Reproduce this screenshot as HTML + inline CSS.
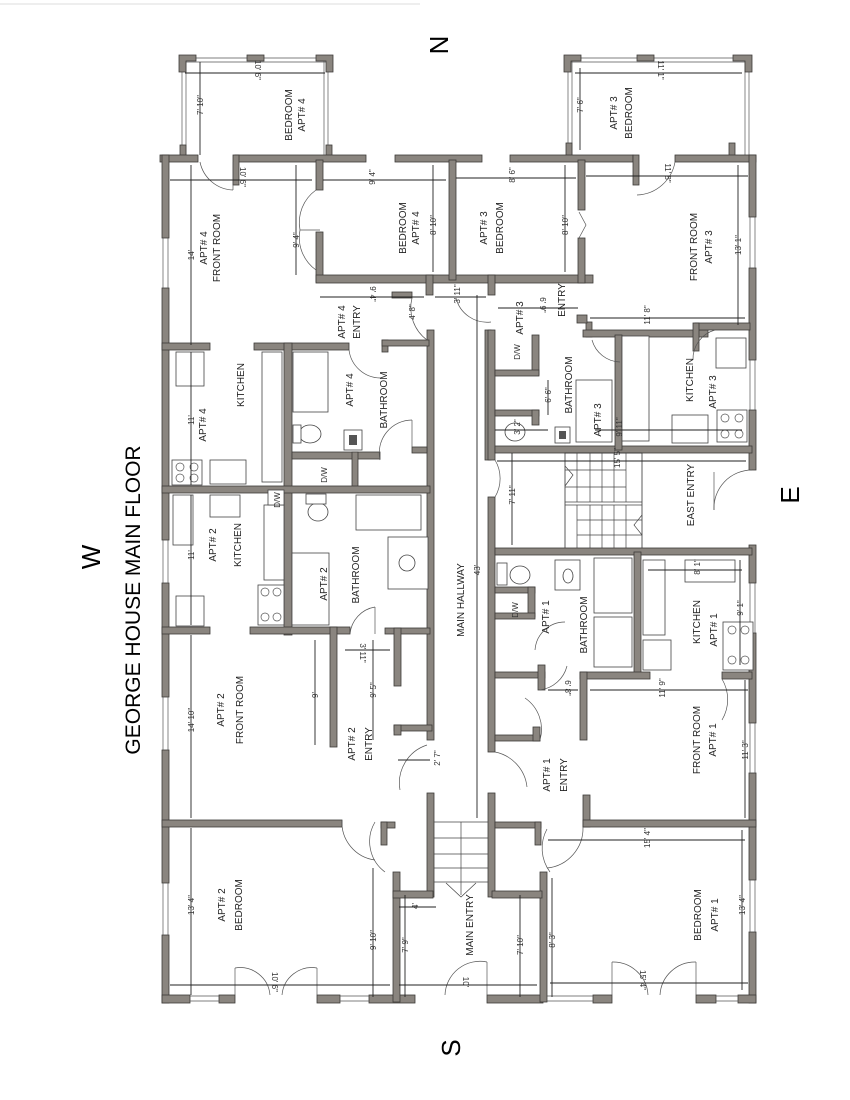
<!DOCTYPE html>
<html><head><meta charset="utf-8"><style>
html,body{margin:0;padding:0;background:#fff;}
svg{display:block;}
.w{fill:#8a857f;stroke:#3c3a38;stroke-width:0.8;}
.t{font-family:"Liberation Sans",sans-serif;font-size:10px;fill:#222;}
.d{font-family:"Liberation Sans",sans-serif;font-size:8px;fill:#333;}
.l{stroke:#222;stroke-width:0.9;fill:none;}
.a{stroke:#555;stroke-width:0.7;fill:none;}
.f{fill:#fff;stroke:#444;stroke-width:0.8;}
</style></head><body>
<svg width="850" height="1100" viewBox="0 0 850 1100" xmlns="http://www.w3.org/2000/svg">
<rect width="850" height="1100" fill="#fff"/>
<line x1="0" y1="4" x2="420" y2="4" stroke="#ddd" stroke-width="1"/>

<!-- Compass + title -->
<text transform="translate(448,45) rotate(-90)" text-anchor="middle" style="font-family:'Liberation Sans',sans-serif;font-size:26px">N</text>
<text transform="translate(799,495) rotate(-90)" text-anchor="middle" style="font-family:'Liberation Sans',sans-serif;font-size:26px">E</text>
<text transform="translate(460,1048) rotate(-90)" text-anchor="middle" style="font-family:'Liberation Sans',sans-serif;font-size:26px">S</text>
<text transform="translate(100,557) rotate(-90)" text-anchor="middle" style="font-family:'Liberation Sans',sans-serif;font-size:26px">W</text>
<text transform="translate(140,600) rotate(-90)" text-anchor="middle" style="font-family:'Liberation Sans',sans-serif;font-size:21px">GEORGE HOUSE MAIN FLOOR</text>

<!-- Bedroom boxes top -->
<g>
<line x1="182" y1="58" x2="182" y2="158" class="a"/><line x1="186" y1="58" x2="186" y2="158" class="a"/>
<line x1="328" y1="58" x2="328" y2="158" class="a"/><line x1="324" y1="58" x2="324" y2="158" class="a"/>
<line x1="182" y1="58" x2="332" y2="58" class="a"/><line x1="182" y1="62" x2="332" y2="62" class="a"/>
<path class="w" d="M179 55 H196 V61 H186 V72 H179 Z"/>
<path class="w" d="M316 55 H333 V72 H326 V61 H316 Z"/>
<rect class="w" x="247" y="55" width="17" height="6"/>
<rect class="w" x="180" y="145" width="6" height="15"/><rect class="w" x="326" y="145" width="6" height="15"/>

<line x1="568" y1="58" x2="568" y2="155" class="a"/><line x1="572" y1="58" x2="572" y2="155" class="a"/>
<line x1="749" y1="58" x2="749" y2="155" class="a"/><line x1="745" y1="58" x2="745" y2="155" class="a"/>
<line x1="565" y1="58" x2="752" y2="58" class="a"/><line x1="565" y1="62" x2="752" y2="62" class="a"/>
<path class="w" d="M564 55 H581 V61 H571 V72 H564 Z"/>
<path class="w" d="M733 55 H752 V72 H745 V61 H733 Z"/>
<rect class="w" x="637" y="55" width="17" height="6"/>
<rect class="w" x="566" y="143" width="6" height="14"/><rect class="w" x="729" y="143" width="6" height="14"/>
</g>

<!-- Outer walls -->
<g>
<!-- top -->
<rect class="w" x="160" y="155" width="38" height="7"/>
<rect class="w" x="235" y="155" width="131" height="7"/>
<rect class="w" x="395" y="155" width="87" height="7"/>
<rect class="w" x="510" y="155" width="123" height="7"/>
<rect class="w" x="675" y="155" width="81" height="7"/>
<rect class="w" x="233" y="155" width="6" height="30"/>
<rect class="w" x="633" y="155" width="6" height="30"/>
<!-- west -->
<rect class="w" x="162" y="155" width="7" height="83"/>
<rect class="w" x="162" y="288" width="7" height="252"/>
<rect class="w" x="162" y="583" width="7" height="114"/>
<rect class="w" x="162" y="750" width="7" height="133"/>
<rect class="w" x="162" y="935" width="7" height="68"/>
<line x1="163" y1="238" x2="163" y2="288" class="a"/><line x1="168" y1="238" x2="168" y2="288" class="a"/>
<line x1="163" y1="540" x2="163" y2="583" class="a"/><line x1="168" y1="540" x2="168" y2="583" class="a"/>
<line x1="163" y1="697" x2="163" y2="750" class="a"/><line x1="168" y1="697" x2="168" y2="750" class="a"/>
<line x1="163" y1="883" x2="163" y2="935" class="a"/><line x1="168" y1="883" x2="168" y2="935" class="a"/>
<!-- east -->
<rect class="w" x="749" y="155" width="7" height="62"/>
<rect class="w" x="749" y="268" width="7" height="92"/>
<rect class="w" x="749" y="410" width="7" height="60"/>
<rect class="w" x="749" y="545" width="7" height="38"/>
<rect class="w" x="749" y="633" width="7" height="90"/>
<rect class="w" x="749" y="773" width="7" height="107"/>
<rect class="w" x="749" y="932" width="7" height="71"/>
<line x1="750" y1="217" x2="750" y2="268" class="a"/><line x1="755" y1="217" x2="755" y2="268" class="a"/>
<line x1="750" y1="360" x2="750" y2="410" class="a"/><line x1="755" y1="360" x2="755" y2="410" class="a"/>
<line x1="750" y1="583" x2="750" y2="633" class="a"/><line x1="755" y1="583" x2="755" y2="633" class="a"/>
<line x1="750" y1="723" x2="750" y2="773" class="a"/><line x1="755" y1="723" x2="755" y2="773" class="a"/>
<line x1="750" y1="880" x2="750" y2="932" class="a"/><line x1="755" y1="880" x2="755" y2="932" class="a"/>
<!-- bottom -->
<rect class="w" x="162" y="995" width="28" height="8"/>
<rect class="w" x="219" y="995" width="16" height="8"/>
<rect class="w" x="317" y="995" width="23" height="8"/>
<rect class="w" x="369" y="995" width="46" height="8"/>
<rect class="w" x="487" y="995" width="56" height="8"/>
<rect class="w" x="593" y="995" width="19" height="8"/>
<rect class="w" x="696" y="995" width="20" height="8"/>
<rect class="w" x="738" y="995" width="18" height="8"/>
<line x1="190" y1="996" x2="219" y2="996" class="a"/><line x1="190" y1="1001" x2="219" y2="1001" class="a"/>
<line x1="340" y1="996" x2="369" y2="996" class="a"/><line x1="340" y1="1001" x2="369" y2="1001" class="a"/>
<line x1="543" y1="996" x2="593" y2="996" class="a"/><line x1="543" y1="1001" x2="593" y2="1001" class="a"/>
<line x1="716" y1="996" x2="738" y2="996" class="a"/><line x1="716" y1="1001" x2="738" y2="1001" class="a"/>
</g>

<!-- Interior walls -->
<g>
<!-- top bedrooms -->
<rect class="w" x="316" y="160" width="7" height="30"/>
<rect class="w" x="316" y="232" width="7" height="50"/>
<rect class="w" x="316" y="275" width="277" height="8"/>
<rect class="w" x="449" y="160" width="7" height="120"/>
<rect class="w" x="578" y="160" width="7" height="50"/>
<rect class="w" x="578" y="238" width="7" height="45"/>
<rect class="w" x="426" y="275" width="7" height="20"/>
<rect class="w" x="488" y="275" width="7" height="20"/>
<rect class="w" x="392" y="292" width="20" height="6"/>
<!-- apt3 entry -->
<rect class="w" x="485" y="330" width="6" height="130"/>
<rect class="w" x="586" y="322" width="6" height="15"/>
<rect class="w" x="577" y="315" width="10" height="8"/>
<rect class="w" x="583" y="330" width="125" height="7"/>
<rect class="w" x="695" y="323" width="55" height="7"/>
<rect class="w" x="693" y="323" width="6" height="28"/>
<!-- hallway walls -->
<rect class="w" x="427" y="330" width="7" height="410"/>
<rect class="w" x="488" y="330" width="7" height="130"/>
<rect class="w" x="488" y="497" width="7" height="255"/>
<rect class="w" x="427" y="793" width="7" height="104"/>
<rect class="w" x="488" y="793" width="7" height="104"/>
<!-- apt4 kitchen/bath -->
<rect class="w" x="254" y="343" width="95" height="7"/>
<rect class="w" x="284" y="343" width="8" height="292"/>
<rect class="w" x="292" y="452" width="88" height="7"/>
<rect class="w" x="352" y="452" width="6" height="35"/>
<rect class="w" x="382" y="340" width="6" height="12"/>
<rect class="w" x="382" y="340" width="47" height="6"/>
<rect class="w" x="412" y="447" width="15" height="6"/>
<rect class="w" x="162" y="486" width="268" height="7"/>
<rect class="w" x="162" y="343" width="48" height="7"/>
<rect class="w" x="162" y="627" width="48" height="7"/>
<rect class="w" x="250" y="627" width="100" height="7"/>
<rect class="w" x="330" y="627" width="7" height="120"/>
<rect class="w" x="385" y="628" width="45" height="6"/>
<rect class="w" x="394" y="628" width="7" height="58"/>
<rect class="w" x="394" y="725" width="38" height="6"/>
<rect class="w" x="394" y="725" width="7" height="10"/>
<!-- apt3 bath/kitchen -->
<rect class="w" x="495" y="446" width="257" height="7"/>
<rect class="w" x="615" y="335" width="7" height="115"/>
<rect class="w" x="532" y="335" width="7" height="40"/>
<rect class="w" x="495" y="370" width="44" height="6"/>
<rect class="w" x="495" y="410" width="44" height="6"/>
<rect class="w" x="532" y="410" width="7" height="15"/>
<!-- stairs east -->
<rect x="565" y="453" width="77" height="96" fill="none" stroke="#333" stroke-width="0.8"/>
<g stroke="#444" stroke-width="0.7">
<line x1="565" y1="502" x2="642" y2="502"/><line x1="565" y1="505" x2="642" y2="505"/>
<line x1="577" y1="453" x2="577" y2="502"/><line x1="590" y1="453" x2="590" y2="502"/><line x1="602" y1="453" x2="602" y2="502"/><line x1="614" y1="453" x2="614" y2="502"/><line x1="626" y1="453" x2="626" y2="502"/>
<line x1="565" y1="470" x2="626" y2="470"/><line x1="565" y1="487" x2="626" y2="487"/>
<line x1="577" y1="505" x2="577" y2="549"/><line x1="590" y1="505" x2="590" y2="549"/><line x1="602" y1="505" x2="602" y2="549"/><line x1="614" y1="505" x2="614" y2="549"/><line x1="626" y1="505" x2="626" y2="549"/>
<line x1="577" y1="520" x2="642" y2="520"/><line x1="577" y1="535" x2="642" y2="535"/>
<polyline points="565,466 573,475 565,486" fill="none"/>
<polyline points="642,515 634,525 642,535" fill="none"/>
</g>
<!-- apt1 -->
<rect class="w" x="495" y="548" width="257" height="7"/>
<rect class="w" x="634" y="552" width="7" height="125"/>
<rect class="w" x="495" y="587" width="40" height="6"/>
<rect class="w" x="528" y="587" width="7" height="30"/>
<rect class="w" x="495" y="613" width="40" height="6"/>
<rect class="w" x="495" y="672" width="50" height="6"/>
<rect class="w" x="538" y="665" width="7" height="25"/>
<rect class="w" x="495" y="735" width="45" height="6"/>
<rect class="w" x="533" y="727" width="7" height="14"/>
<rect class="w" x="580" y="672" width="70" height="7"/>
<rect class="w" x="580" y="672" width="7" height="68"/>
<rect class="w" x="722" y="672" width="30" height="7"/>
<rect class="w" x="583" y="795" width="7" height="32"/>
<rect class="w" x="583" y="820" width="173" height="7"/>
<!-- apt2 front/bedroom -->
<rect class="w" x="162" y="820" width="180" height="7"/>
<!-- main entry stair -->
<rect class="w" x="381" y="822" width="14" height="6"/>
<rect class="w" x="381" y="822" width="6" height="23"/>
<rect class="w" x="393" y="872" width="7" height="130"/>
<rect class="w" x="393" y="891" width="40" height="7"/>
<rect class="w" x="495" y="822" width="46" height="6"/>
<rect class="w" x="535" y="822" width="6" height="23"/>
<rect class="w" x="540" y="872" width="7" height="130"/>
<rect class="w" x="492" y="891" width="50" height="7"/>
<g stroke="#444" stroke-width="0.7">
<line x1="434" y1="838" x2="488" y2="838"/><line x1="434" y1="854" x2="488" y2="854"/><line x1="434" y1="868" x2="488" y2="868"/><line x1="434" y1="882" x2="488" y2="882"/>
<line x1="461" y1="822" x2="461" y2="895"/>
<polyline points="446,883 461,897 476,883" fill="none"/>
<line x1="434" y1="822" x2="488" y2="822"/>
</g>
</g>

<!-- Doors (arcs) -->
<g class="a">
<path d="M200 162 A35 35 0 0 0 233 190"/><line x1="233" y1="162" x2="233" y2="190"/>
<path d="M675 162 A40 40 0 0 1 637 195"/>
<path d="M316 190 A40 40 0 0 0 300 230"/><path d="M316 270 A40 40 0 0 1 300 230"/><line x1="300" y1="230" x2="320" y2="230"/>
<polyline points="579,212 586,225 579,238"/>
<path d="M412 298 A40 40 0 0 0 427 340"/>
<path d="M491 322 A32 32 0 0 1 456 298"/>
<path d="M349 350 A32 32 0 0 0 380 378"/>
<path d="M380 460 A33 33 0 0 1 412 420"/><line x1="412" y1="420" x2="412" y2="447"/>
<path d="M495 460 A36 36 0 0 1 495 497"/>
<path d="M592 340 A30 30 0 0 0 620 362"/>
<path d="M715 330 A30 30 0 0 0 693 360"/>
<path d="M752 470 A38 38 0 0 0 714 510"/><line x1="714" y1="472" x2="714" y2="510"/>
<path d="M350 634 A30 30 0 0 1 375 607"/><line x1="375" y1="607" x2="375" y2="634"/>
<path d="M535 650 A30 30 0 0 1 565 622"/><path d="M540 690 A32 32 0 0 0 567 666"/>
<path d="M540 740 A38 38 0 0 0 525 698"/>
<path d="M722 679 A40 40 0 0 1 722 720"/>
<path d="M427 745 A40 40 0 0 0 400 790"/><path d="M495 752 A40 40 0 0 1 527 787"/>
<path d="M342 820 A38 38 0 0 0 375 860"/><path d="M375 822 A38 38 0 0 0 385 872"/>
<path d="M583 827 A40 40 0 0 1 547 868"/><path d="M547 829 A40 40 0 0 0 550 872"/>
<path d="M235 968 A30 30 0 0 1 270 995"/><line x1="235" y1="968" x2="235" y2="995"/>
<path d="M317 968 A30 30 0 0 0 282 995"/><line x1="317" y1="968" x2="317" y2="995"/>
<path d="M445 995 A35 35 0 0 1 487 962"/><line x1="487" y1="962" x2="487" y2="995"/>
<path d="M612 962 A35 35 0 0 1 648 995"/><line x1="612" y1="962" x2="612" y2="995"/>
<path d="M696 962 A35 35 0 0 0 660 995"/><line x1="696" y1="962" x2="696" y2="995"/>
</g>

<!-- Fixtures -->
<g>
<!-- apt4 kitchen counter + fridge -->
<rect class="f" x="262" y="352" width="20" height="130"/>
<rect class="f" x="176" y="352" width="28" height="34"/>
<rect class="f" x="172" y="460" width="30" height="25"/>
<circle cx="180" cy="467" r="4" class="a"/><circle cx="194" cy="467" r="4" class="a"/><circle cx="180" cy="478" r="4" class="a"/><circle cx="194" cy="478" r="4" class="a"/>
<rect class="f" x="210" y="460" width="36" height="24"/>
<rect class="f" x="293" y="352" width="35" height="60"/>
<ellipse cx="310" cy="434" rx="11" ry="9" class="f"/><rect class="f" x="293" y="425" width="8" height="18"/>
<rect class="f" x="344" y="430" width="18" height="20"/><rect x="349" y="435" width="8" height="10" fill="#555"/>
<text class="d" transform="translate(327,475) rotate(-90)" text-anchor="middle">D/W</text>
<!-- apt2 kitchen -->
<rect class="f" x="210" y="495" width="30" height="22"/>
<rect class="f" x="173" y="495" width="20" height="50"/>
<rect class="f" x="264" y="505" width="20" height="75"/>
<rect class="f" x="258" y="585" width="26" height="40"/>
<circle cx="265" cy="592" r="4" class="a"/><circle cx="277" cy="592" r="4" class="a"/><circle cx="265" cy="617" r="4" class="a"/><circle cx="277" cy="617" r="4" class="a"/>
<rect class="f" x="176" y="596" width="28" height="30"/>
<rect class="f" x="268" y="490" width="16" height="15"/>
<text class="d" transform="translate(280,500) rotate(-90)" text-anchor="middle">D/W</text>
<rect class="f" x="292" y="553" width="37" height="72"/>
<ellipse cx="318" cy="512" rx="10" ry="9" class="f"/><rect class="f" x="306" y="494" width="20" height="10"/>
<rect class="f" x="356" y="495" width="65" height="35"/>
<rect class="f" x="388" y="537" width="40" height="52"/><ellipse cx="407" cy="563" rx="8" ry="8" class="f"/>
<!-- apt3 bath -->
<text class="d" transform="translate(520,352) rotate(-90)" text-anchor="middle">D/W</text>
<rect class="f" x="576" y="380" width="36" height="62"/>
<ellipse cx="515" cy="432" rx="10" ry="9" class="f"/>
<rect class="f" x="555" y="427" width="15" height="16"/><rect x="559" y="431" width="7" height="8" fill="#555"/>
<rect class="f" x="622" y="336" width="27" height="105"/>
<rect class="f" x="716" y="338" width="30" height="30"/>
<rect class="f" x="672" y="415" width="36" height="28"/>
<rect class="f" x="717" y="410" width="30" height="32"/>
<circle cx="725" cy="418" r="4" class="a"/><circle cx="739" cy="418" r="4" class="a"/><circle cx="725" cy="434" r="4" class="a"/><circle cx="739" cy="434" r="4" class="a"/>
<!-- apt1 bath/kitchen -->
<ellipse cx="520" cy="575" rx="10" ry="9" class="f"/><rect class="f" x="497" y="563" width="10" height="22"/>
<rect class="f" x="555" y="560" width="25" height="30"/><ellipse cx="568" cy="576" rx="5" ry="7" class="f"/>
<text class="d" transform="translate(518,610) rotate(-90)" text-anchor="middle">D/W</text>
<rect class="f" x="594" y="558" width="38" height="55"/>
<rect class="f" x="594" y="617" width="38" height="50"/>
<rect class="f" x="643" y="560" width="22" height="75"/>
<rect class="f" x="643" y="640" width="28" height="30"/>
<rect class="f" x="685" y="560" width="50" height="22"/>
<rect class="f" x="723" y="622" width="30" height="48"/>
<circle cx="732" cy="630" r="4" class="a"/><circle cx="745" cy="630" r="4" class="a"/><circle cx="732" cy="660" r="4" class="a"/><circle cx="745" cy="660" r="4" class="a"/>
</g>

<!-- Dimension lines -->
<g class="l">
<line x1="191" y1="165" x2="191" y2="345"/><line x1="191" y1="352" x2="191" y2="485"/><line x1="191" y1="495" x2="191" y2="625"/>
<line x1="191" y1="635" x2="191" y2="818"/><line x1="191" y1="828" x2="191" y2="995"/>
<line x1="200" y1="62" x2="200" y2="155"/><line x1="185" y1="73" x2="325" y2="73"/>
<line x1="575" y1="73" x2="742" y2="73"/><line x1="580" y1="68" x2="580" y2="150"/>
<line x1="170" y1="180" x2="312" y2="180"/><line x1="323" y1="180" x2="446" y2="180"/><line x1="456" y1="178" x2="576" y2="178"/><line x1="586" y1="176" x2="748" y2="176"/>
<line x1="296" y1="165" x2="296" y2="275"/><line x1="433" y1="165" x2="433" y2="272"/><line x1="565" y1="165" x2="565" y2="272"/>
<line x1="738" y1="165" x2="738" y2="325"/>
<line x1="320" y1="297" x2="424" y2="297"/><line x1="435" y1="297" x2="486" y2="297"/>
<line x1="498" y1="308" x2="578" y2="308"/><line x1="590" y1="318" x2="745" y2="318"/>
<line x1="477" y1="295" x2="477" y2="818"/>
<line x1="497" y1="461" x2="746" y2="461"/><line x1="512" y1="453" x2="512" y2="545"/>
<line x1="495" y1="430" x2="548" y2="430"/><line x1="595" y1="430" x2="742" y2="430"/>
<line x1="548" y1="380" x2="548" y2="415"/>
<line x1="648" y1="570" x2="742" y2="570"/><line x1="740" y1="560" x2="740" y2="665"/>
<line x1="590" y1="690" x2="748" y2="690"/><line x1="745" y1="680" x2="745" y2="818"/>
<line x1="548" y1="690" x2="578" y2="690"/>
<line x1="315" y1="640" x2="315" y2="745"/><line x1="345" y1="650" x2="390" y2="650"/><line x1="373" y1="640" x2="373" y2="740"/>
<line x1="398" y1="760" x2="430" y2="760"/>
<line x1="548" y1="840" x2="745" y2="840"/><line x1="742" y1="830" x2="742" y2="990"/>
<line x1="373" y1="868" x2="373" y2="997"/><line x1="405" y1="895" x2="405" y2="997"/><line x1="399" y1="907" x2="436" y2="907"/>
<line x1="520" y1="895" x2="520" y2="997"/><line x1="552" y1="878" x2="552" y2="997"/>
<line x1="170" y1="985" x2="390" y2="985"/><line x1="399" y1="985" x2="537" y2="985"/><line x1="550" y1="983" x2="748" y2="983"/>
</g>

<!-- Room labels -->
<g class="t" text-anchor="middle">
<text transform="translate(292,115) rotate(-90)">BEDROOM</text><text transform="translate(305,115) rotate(-90)">APT# 4</text>
<text transform="translate(617,113) rotate(-90)">APT# 3</text><text transform="translate(632,113) rotate(-90)">BEDROOM</text>
<text transform="translate(207,248) rotate(-90)">APT# 4</text><text transform="translate(220,248) rotate(-90)">FRONT ROOM</text>
<text transform="translate(406,228) rotate(-90)">BEDROOM</text><text transform="translate(419,228) rotate(-90)">APT# 4</text>
<text transform="translate(487,228) rotate(-90)">APT# 3</text><text transform="translate(503,228) rotate(-90)">BEDROOM</text>
<text transform="translate(697,247) rotate(-90)">FRONT ROOM</text><text transform="translate(712,247) rotate(-90)">APT# 3</text>
<text transform="translate(345,322) rotate(-90)">APT# 4</text><text transform="translate(360,322) rotate(-90)">ENTRY</text>
<text transform="translate(523,318) rotate(-90)">APT# 3</text><text transform="translate(565,300) rotate(-90)">ENTRY</text>
<text transform="translate(244,385) rotate(-90)">KITCHEN</text><text transform="translate(206,425) rotate(-90)">APT# 4</text>
<text transform="translate(353,390) rotate(-90)">APT# 4</text><text transform="translate(387,400) rotate(-90)">BATHROOM</text>
<text transform="translate(572,385) rotate(-90)">BATHROOM</text><text transform="translate(601,420) rotate(-90)">APT# 3</text>
<text transform="translate(693,380) rotate(-90)">KITCHEN</text><text transform="translate(716,392) rotate(-90)">APT# 3</text>
<text transform="translate(694,495) rotate(-90)">EAST ENTRY</text>
<text transform="translate(216,545) rotate(-90)">APT# 2</text><text transform="translate(241,545) rotate(-90)">KITCHEN</text>
<text transform="translate(327,584) rotate(-90)">APT# 2</text><text transform="translate(359,575) rotate(-90)">BATHROOM</text>
<text transform="translate(464,600) rotate(-90)">MAIN HALLWAY</text>
<text transform="translate(549,617) rotate(-90)">APT# 1</text><text transform="translate(587,625) rotate(-90)">BATHROOM</text>
<text transform="translate(700,622) rotate(-90)">KITCHEN</text><text transform="translate(717,630) rotate(-90)">APT# 1</text>
<text transform="translate(224,710) rotate(-90)">APT# 2</text><text transform="translate(243,710) rotate(-90)">FRONT ROOM</text>
<text transform="translate(355,744) rotate(-90)">APT# 2</text><text transform="translate(372,744) rotate(-90)">ENTRY</text>
<text transform="translate(550,775) rotate(-90)">APT# 1</text><text transform="translate(567,775) rotate(-90)">ENTRY</text>
<text transform="translate(700,740) rotate(-90)">FRONT ROOM</text><text transform="translate(716,740) rotate(-90)">APT# 1</text>
<text transform="translate(225,905) rotate(-90)">APT# 2</text><text transform="translate(242,905) rotate(-90)">BEDROOM</text>
<text transform="translate(473,925) rotate(-90)">MAIN ENTRY</text>
<text transform="translate(701,915) rotate(-90)">BEDROOM</text><text transform="translate(718,915) rotate(-90)">APT# 1</text>
</g>

<!-- Dimension text -->
<g class="d" text-anchor="middle">
<text transform="translate(194,255) rotate(-90)">14'</text>
<text transform="translate(194,420) rotate(-90)">11'</text>
<text transform="translate(194,555) rotate(-90)">11'</text>
<text transform="translate(194,720) rotate(-90)">14' 10"</text>
<text transform="translate(194,905) rotate(-90)">13' 4"</text>
<text transform="translate(203,105) rotate(-90)">7' 10"</text>
<text transform="translate(583,105) rotate(-90)">7' 6"</text>
<text transform="translate(255,70) rotate(90)">10' 6"</text>
<text transform="translate(658,70) rotate(90)">11' 1"</text>
<text transform="translate(240,177) rotate(90)">10' 6"</text>
<text transform="translate(375,177) rotate(-90)">9' 4"</text>
<text transform="translate(515,175) rotate(-90)">8' 6"</text>
<text transform="translate(665,173) rotate(90)">11' 8"</text>
<text transform="translate(299,240) rotate(-90)">9' 4"</text>
<text transform="translate(436,225) rotate(-90)">8' 10"</text>
<text transform="translate(568,225) rotate(-90)">8' 10"</text>
<text transform="translate(741,245) rotate(-90)">13' 1"</text>
<text transform="translate(370,294) rotate(90)">9' 4"</text>
<text transform="translate(460,294) rotate(-90)">3' 11"</text>
<text transform="translate(415,312) rotate(-90)">4' 8"</text>
<text transform="translate(540,305) rotate(90)">6' 9"</text>
<text transform="translate(650,315) rotate(-90)">11' 8"</text>
<text transform="translate(551,395) rotate(-90)">6' 6"</text>
<text transform="translate(520,427) rotate(-90)">3' 2"</text>
<text transform="translate(622,427) rotate(-90)">9' 11"</text>
<text transform="translate(620,458) rotate(-90)">15' 5"</text>
<text transform="translate(515,495) rotate(-90)">7' 11"</text>
<text transform="translate(480,570) rotate(-90)">43'</text>
<text transform="translate(700,567) rotate(-90)">8' 1"</text>
<text transform="translate(743,608) rotate(-90)">9' 1"</text>
<text transform="translate(565,688) rotate(90)">6' 8"</text>
<text transform="translate(665,688) rotate(-90)">11' 9"</text>
<text transform="translate(748,750) rotate(-90)">11' 3"</text>
<text transform="translate(318,695) rotate(-90)">9'</text>
<text transform="translate(360,653) rotate(90)">3' 11"</text>
<text transform="translate(376,690) rotate(-90)">9' 5"</text>
<text transform="translate(440,758) rotate(-90)">2' 7"</text>
<text transform="translate(650,838) rotate(-90)">15' 4"</text>
<text transform="translate(745,905) rotate(-90)">13' 4"</text>
<text transform="translate(376,940) rotate(-90)">9' 10"</text>
<text transform="translate(408,945) rotate(-90)">7' 9"</text>
<text transform="translate(418,906) rotate(-90)">4'</text>
<text transform="translate(523,945) rotate(-90)">7' 10"</text>
<text transform="translate(555,940) rotate(-90)">8' 3"</text>
<text transform="translate(272,982) rotate(90)">10' 6"</text>
<text transform="translate(463,982) rotate(90)">10'</text>
<text transform="translate(640,980) rotate(90)">15' 4"</text>
</g>
</svg>
</body></html>
